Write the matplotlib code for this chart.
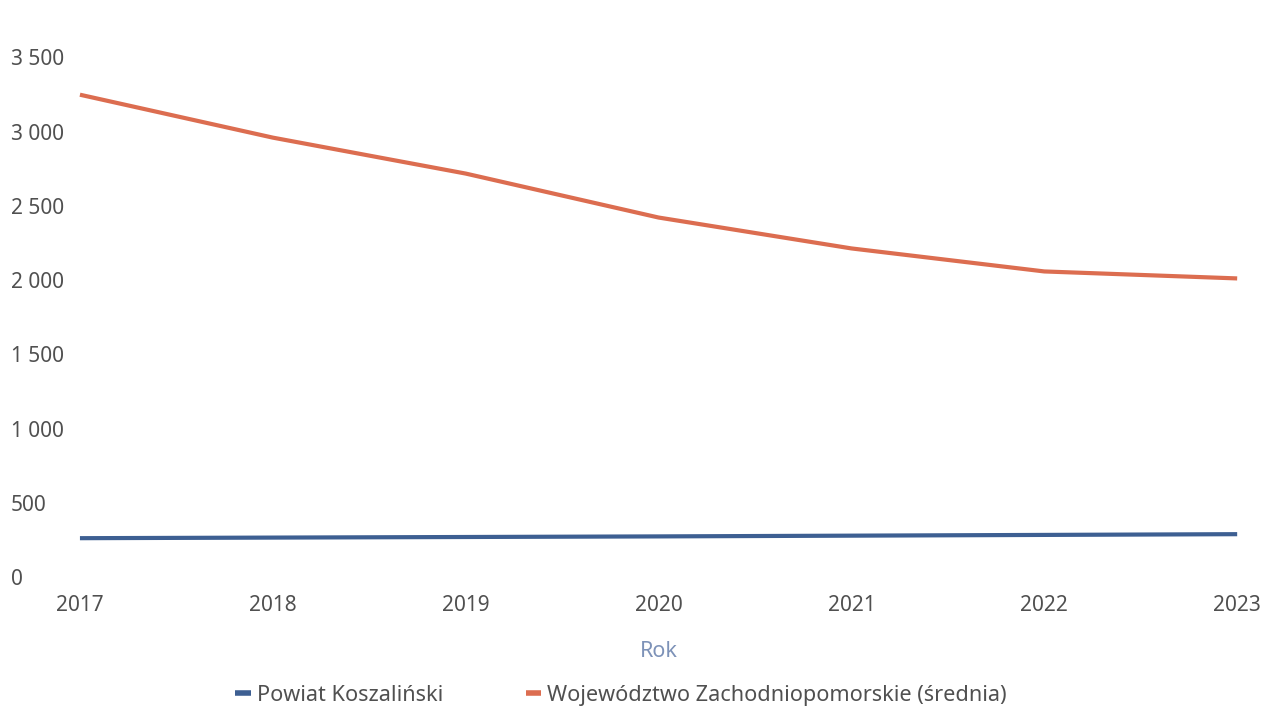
import matplotlib
matplotlib.use("Agg")
import matplotlib.pyplot as plt
from matplotlib.ticker import FuncFormatter

years = [2017, 2018, 2019, 2020, 2021, 2022, 2023]
powiat = [262, 266, 270, 274, 279, 284, 289]
wojewodztwo = [3248, 2959, 2717, 2421, 2213, 2058, 2011]
y_ticks = [0, 500, 1000, 1500, 2000, 2500, 3000, 3500]
series_names = ["Powiat Koszaliński", "Województwo Zachodniopomorskie (średnia)"]
x_title = "Rok"

plt.rcParams['font.family'] = ['Noto Sans', 'DejaVu Sans']

fig = plt.figure(figsize=(12.65, 7.16), dpi=100)
ax = fig.add_axes([0.0632, 0.194, 0.9148, 0.726])

blue = "#3d5f92"
orange = "#dc6d50"
ax.plot(years, powiat, color=blue, lw=3, solid_capstyle='butt', clip_on=False,
        label=series_names[0])
ax.plot(years, wojewodztwo, color=orange, lw=3, solid_capstyle='butt', clip_on=False,
        label=series_names[1])

ax.set_xlim(2017, 2023)
ax.set_ylim(0, 3500)
ax.set_xticks(years)
ax.set_yticks(y_ticks)
ax.yaxis.set_major_formatter(FuncFormatter(lambda v, p: f"{int(v):,}".replace(",", " ")))

for s in ax.spines.values():
    s.set_visible(False)

txt = "#505050"
ax.tick_params(axis='y', length=0, pad=50, labelsize=15, labelcolor=txt)
ax.tick_params(axis='x', length=0, pad=13, labelsize=15, labelcolor=txt)
for lbl in ax.get_yticklabels():
    lbl.set_ha('left')

ax.set_xlabel(x_title, fontsize=15.5, color="#7d92b8", labelpad=18)

leg = fig.legend(loc='center', bbox_to_anchor=(0.491, 0.029), ncol=2, frameon=False,
                 fontsize=15.6, handlelength=0.7, handletextpad=0.3, columnspacing=3.8)
for t in leg.get_texts():
    t.set_color(txt)
for h in leg.get_lines():
    h.set_linewidth(4)

fig.savefig("out.png", dpi=100, facecolor="white")
